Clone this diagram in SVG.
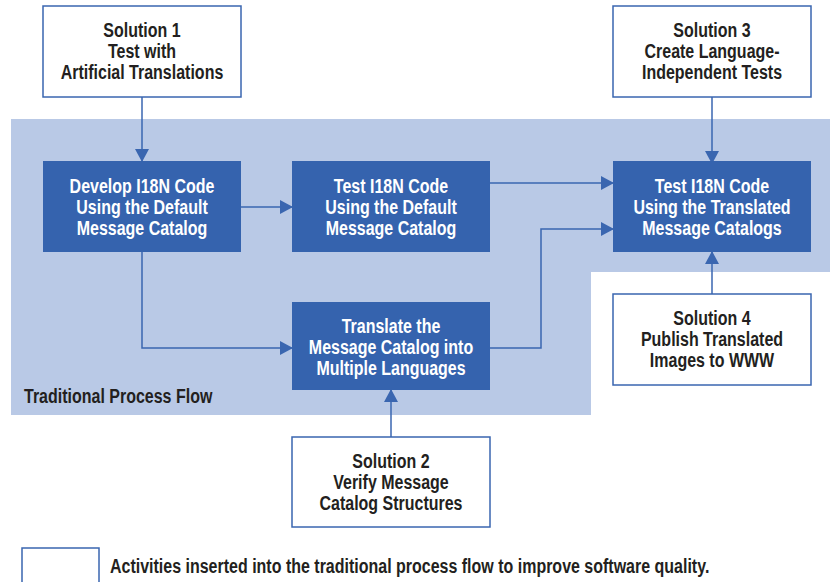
<svg xmlns="http://www.w3.org/2000/svg" width="830" height="582" viewBox="0 0 830 582">
<style>
  .sol{fill:#ffffff;stroke:#3a66b0;stroke-width:1.5}
  .act{fill:#3563ae}
  .t{font-family:"Liberation Sans",Arial,sans-serif;font-weight:bold;font-size:19.5px;text-anchor:middle}
  .dk{fill:#231f20}
  .wt{fill:#ffffff}
  .lbl{font-family:"Liberation Sans",Arial,sans-serif;font-weight:bold;font-size:19.5px;fill:#231f20}
  .c{fill:none;stroke:#3a66b0;stroke-width:1.5}
</style>
<defs>
  <marker id="ah" markerWidth="14" markerHeight="14" refX="12" refY="7" orient="auto" markerUnits="userSpaceOnUse">
    <path d="M0,0 L13,7 L0,14 Z" fill="#3a66b0"/>
  </marker>
</defs>
<rect width="830" height="582" fill="#ffffff"/>
<path id="process-area" d="M11,119 H830 V272 H591 V415 H11 Z" fill="#b9c9e6"/>
<text class="lbl" transform="translate(24,403) scale(0.82,1)">Traditional Process Flow</text>

<g id="connectors">
  <path class="c" d="M142,97 V161" marker-end="url(#ah)"/>
  <path class="c" d="M241,207 H292" marker-end="url(#ah)"/>
  <path class="c" d="M490,183 H613" marker-end="url(#ah)"/>
  <path class="c" d="M142,252 V348 H292" marker-end="url(#ah)"/>
  <path class="c" d="M490,348 H541 V229 H613" marker-end="url(#ah)"/>
  <path class="c" d="M712,97 V163" marker-end="url(#ah)"/>
  <path class="c" d="M712,294 V252" marker-end="url(#ah)"/>
  <path class="c" d="M391,437 V390" marker-end="url(#ah)"/>
</g>

<g id="solution1">
  <rect class="sol" x="43" y="6" width="198" height="91"/>
  <text class="t dk" transform="translate(142,0) scale(0.82,1)"><tspan x="0" y="37">Solution 1</tspan><tspan x="0" y="58">Test with</tspan><tspan x="0" y="79">Artificial Translations</tspan></text>
</g>
<g id="solution3">
  <rect class="sol" x="613" y="6" width="198" height="91"/>
  <text class="t dk" transform="translate(712,0) scale(0.82,1)"><tspan x="0" y="37">Solution 3</tspan><tspan x="0" y="58">Create Language-</tspan><tspan x="0" y="79">Independent Tests</tspan></text>
</g>
<g id="develop">
  <rect class="act" x="43" y="161" width="198" height="91"/>
  <text class="t wt" transform="translate(142,0) scale(0.82,1)"><tspan x="0" y="193">Develop I18N Code</tspan><tspan x="0" y="214">Using the Default</tspan><tspan x="0" y="235">Message Catalog</tspan></text>
</g>
<g id="test-default">
  <rect class="act" x="292" y="161" width="198" height="91"/>
  <text class="t wt" transform="translate(391,0) scale(0.82,1)"><tspan x="0" y="193">Test I18N Code</tspan><tspan x="0" y="214">Using the Default</tspan><tspan x="0" y="235">Message Catalog</tspan></text>
</g>
<g id="test-translated">
  <rect class="act" x="613" y="161" width="198" height="91"/>
  <text class="t wt" transform="translate(712,0) scale(0.82,1)"><tspan x="0" y="193">Test I18N Code</tspan><tspan x="0" y="214">Using the Translated</tspan><tspan x="0" y="235">Message Catalogs</tspan></text>
</g>
<g id="translate">
  <rect class="act" x="292" y="302" width="198" height="88"/>
  <text class="t wt" transform="translate(391,0) scale(0.82,1)"><tspan x="0" y="333">Translate the</tspan><tspan x="0" y="354">Message Catalog into</tspan><tspan x="0" y="375">Multiple Languages</tspan></text>
</g>
<g id="solution4">
  <rect class="sol" x="613" y="294" width="198" height="91"/>
  <text class="t dk" transform="translate(712,0) scale(0.82,1)"><tspan x="0" y="325">Solution 4</tspan><tspan x="0" y="346">Publish Translated</tspan><tspan x="0" y="367">Images to WWW</tspan></text>
</g>
<g id="solution2">
  <rect class="sol" x="292" y="437" width="198" height="90"/>
  <text class="t dk" transform="translate(391,0) scale(0.82,1)"><tspan x="0" y="468">Solution 2</tspan><tspan x="0" y="489">Verify Message</tspan><tspan x="0" y="510">Catalog Structures</tspan></text>
</g>
<g id="legend">
  <rect class="sol" x="22" y="548" width="77" height="45"/>
  <text class="lbl" transform="translate(110,573) scale(0.82,1)">Activities inserted into the traditional process flow to improve software quality.</text>
</g>
</svg>
